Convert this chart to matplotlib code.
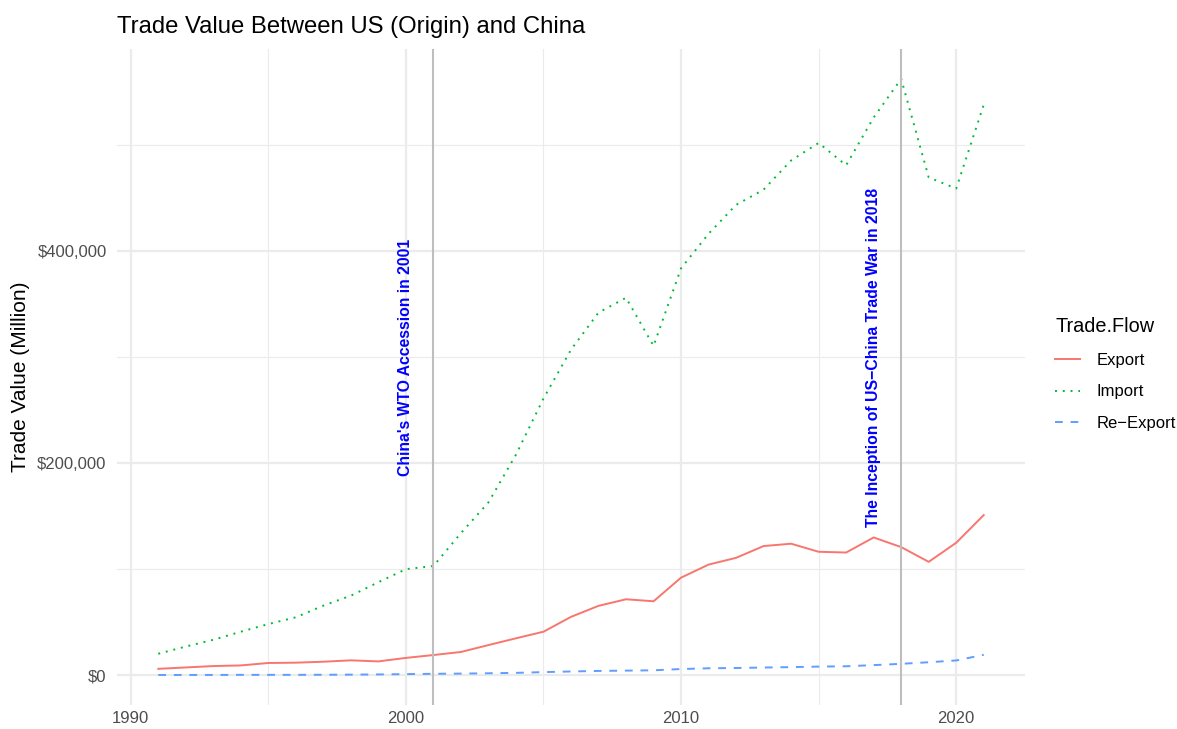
import matplotlib.pyplot as plt
from matplotlib.ticker import FuncFormatter, MultipleLocator

plt.rcParams["font.family"] = ["Liberation Sans", "DejaVu Sans"]

years = list(range(1991, 2022))

# trade values in million USD
export_vals = [6.0, 7.3, 8.6, 9.2, 11.5, 11.8, 12.7, 14.0, 13.0, 16.3,
               19.0, 21.9, 28.4, 34.8, 41.0, 55.0, 65.4, 71.6, 69.7, 92.0,
               104.3, 110.7, 121.8, 124.0, 116.4, 115.7, 129.9, 120.8, 106.9, 124.9,
               151.0]
import_vals = [20.2, 27.0, 33.4, 41.0, 48.2, 54.6, 65.6, 75.0, 87.7, 100.0,
               103.0, 134.0, 163.0, 208.0, 261.0, 307.0, 342.0, 356.0, 310.6, 383.8,
               416.4, 443.6, 458.0, 485.5, 502.0, 481.0, 526.0, 562.5, 469.5, 459.0,
               538.0]
reexport_vals = [0.2, 0.2, 0.2, 0.3, 0.3, 0.3, 0.4, 0.5, 0.7, 1.0,
                 1.3, 1.5, 1.8, 2.2, 2.9, 3.5, 4.0, 4.3, 4.6, 5.8,
                 6.5, 6.8, 7.2, 7.6, 8.1, 8.4, 9.5, 10.7, 12.2, 13.9,
                 19.2]

series = {
    "Export": (export_vals, "#F8766D", "-"),
    "Import": (import_vals, "#00BA38", (0, (1, 3))),
    "Re\u2212Export": (reexport_vals, "#619CFF", (0, (4, 4))),
}

events = [
    (2001, 2000, "China's WTO Accession in 2001"),
    (2018, 2017, "The Inception of US\u2212China Trade War in 2018"),
]

fig = plt.figure(figsize=(11.77, 7.29), dpi=100)
ax = fig.add_axes([117 / 1177, 1 - 705 / 729, (1025 - 117) / 1177, (705 - 49) / 729])

# ggplot-like minimal theme
ax.set_facecolor("white")
for s in ax.spines.values():
    s.set_visible(False)
ax.xaxis.set_major_locator(MultipleLocator(10))
ax.xaxis.set_minor_locator(MultipleLocator(5))
ax.yaxis.set_major_locator(MultipleLocator(200000))
ax.yaxis.set_minor_locator(MultipleLocator(100000))
ax.grid(which="major", color="#EBEBEB", lw=1.6)
ax.grid(which="minor", color="#EBEBEB", lw=0.8)
ax.set_axisbelow(True)
ax.tick_params(which="both", length=0, labelsize=12, labelcolor="#4D4D4D", pad=4)
ax.tick_params(axis="y", pad=7.5)
ax.yaxis.set_major_formatter(FuncFormatter(lambda v, p: "${:,.0f}".format(v)))

for name, (vals, col, ls) in series.items():
    ax.plot(years, [v * 1000 for v in vals], color=col, ls=ls, lw=1.4, label=name)

for xline, xtext, txt in events:
    ax.axvline(xline, color="#BEBEBE", lw=1.5)
    ax.text(xtext, 300000, txt, rotation=90, color="blue", fontsize=11.3,
            fontweight="bold", ha="center", va="center")

all_vals = [v * 1000 for v in export_vals + import_vals + reexport_vals]
ymax = max(all_vals)
ax.set_ylim(-0.05 * ymax, 1.05 * ymax)
ax.set_xlim(1991 - 1.5, 2021 + 1.5)

ax.set_ylabel("Trade Value (Million)", fontsize=15, labelpad=5)
fig.text(117 / 1177, 1 - 27 / 729, "Trade Value Between US (Origin) and China",
         fontsize=17.2, va="center", ha="left")

leg = ax.legend(title="Trade.Flow", frameon=False, loc="upper left",
                bbox_to_anchor=(1040 / 1177, 1 - 302 / 729), bbox_transform=fig.transFigure,
                fontsize=12, title_fontsize=14.3, handlelength=1.5, handletextpad=1.0,
                labelspacing=1.0, alignment="left")

fig.savefig("out.png", dpi=100)
